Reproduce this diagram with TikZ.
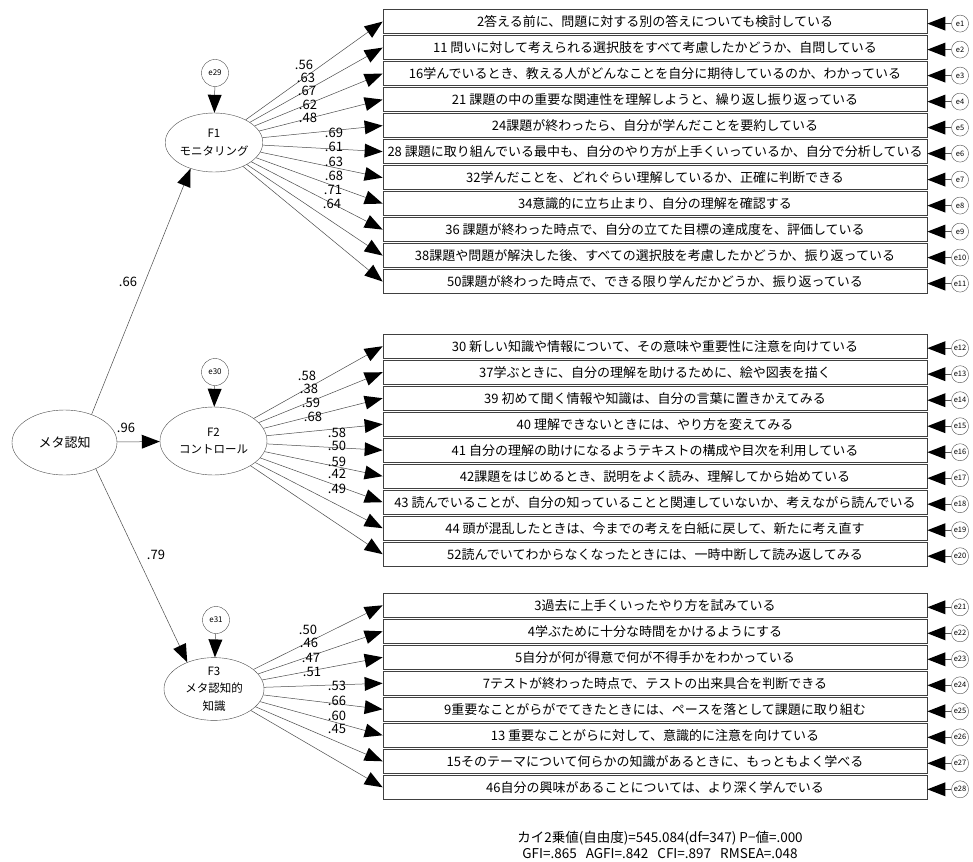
\documentclass[tikz,border=0pt]{standalone}
\usepackage{fontspec}
\setmainfont{Noto Sans CJK JP}
\usetikzlibrary{positioning,shapes.geometric,arrows.meta}

\tikzset{
  item/.style={draw=black!75, line width=0.7pt, minimum width=544pt, minimum height=24pt,
    inner sep=0pt, font=\fontsize{13}{14}\selectfont},
  err/.style={draw=black!70, circle, minimum size=17pt, inner sep=0pt, font=\fontsize{7.5}{8}\selectfont},
  dist/.style={draw=black!70, circle, minimum size=27pt, inner sep=0pt, font=\fontsize{8}{9}\selectfont},
  factor/.style={draw=black!70, ellipse, inner sep=0pt, align=center, font=\fontsize{11.5}{17.5}\selectfont},
  link/.style={draw=black!70, line width=0.5pt, -{Triangle[length=18pt,width=14pt,line width=0pt,color=black,fill=black]}},
  coef/.style={inner sep=0pt, font=\fontsize{13}{14}\selectfont},
}

\begin{document}
\begin{tikzpicture}[x=1pt,y=1pt]
    \path[use as bounding box, fill=white] (0,0) rectangle (973,-861);

    % monitoring items
    \node[item] (m1) at (655,-21.6) {2答える前に、問題に対する別の答えについても検討している};
    \node[item, below=1.3pt of m1] (m2) {11 問いに対して考えられる選択肢をすべて考慮したかどうか、自問している};
    \node[item, below=1.3pt of m2] (m3) {16学んでいるとき、教える人がどんなことを自分に期待しているのか、わかっている};
    \node[item, below=1.3pt of m3] (m4) {21 課題の中の重要な関連性を理解しようと、繰り返し振り返っている};
    \node[item, below=1.3pt of m4] (m5) {24課題が終わったら、自分が学んだことを要約している};
    \node[item, below=1.3pt of m5] (m6) {28 課題に取り組んでいる最中も、自分のやり方が上手くいっているか、自分で分析している};
    \node[item, below=1.3pt of m6] (m7) {32学んだことを、どれぐらい理解しているか、正確に判断できる};
    \node[item, below=1.3pt of m7] (m8) {34意識的に立ち止まり、自分の理解を確認する};
    \node[item, below=1.3pt of m8] (m9) {36 課題が終わった時点で、自分の立てた目標の達成度を、評価している};
    \node[item, below=1.3pt of m9] (m10) {38課題や問題が解決した後、すべての選択肢を考慮したかどうか、振り返っている};
    \node[item, below=1.3pt of m10] (m11) {50課題が終わった時点で、できる限り学んだかどうか、振り返っている};

    % control items
    \node[item] (c1) at (655,-346.2) {30 新しい知識や情報について、その意味や重要性に注意を向けている};
    \node[item, below=1.3pt of c1] (c2) {37学ぶときに、自分の理解を助けるために、絵や図表を描く};
    \node[item, below=1.3pt of c2] (c3) {39 初めて聞く情報や知識は、自分の言葉に置きかえてみる};
    \node[item, below=1.3pt of c3] (c4) {40 理解できないときには、やり方を変えてみる};
    \node[item, below=1.3pt of c4] (c5) {41 自分の理解の助けになるようテキストの構成や目次を利用している};
    \node[item, below=1.3pt of c5] (c6) {42課題をはじめるとき、説明をよく読み、理解してから始めている};
    \node[item, below=1.3pt of c6] (c7) {43 読んでいることが、自分の知っていることと関連していないか、考えながら読んでいる};
    \node[item, below=1.3pt of c7] (c8) {44 頭が混乱したときは、今までの考えを白紙に戻して、新たに考え直す};
    \node[item, below=1.3pt of c8] (c9) {52読んでいてわからなくなったときには、一時中断して読み返してみる};

    % knowledge items
    \node[item] (k1) at (655,-605.3) {3過去に上手くいったやり方を試みている};
    \node[item, below=1.3pt of k1] (k2) {4学ぶために十分な時間をかけるようにする};
    \node[item, below=1.3pt of k2] (k3) {5自分が何が得意で何が不得手かをわかっている};
    \node[item, below=1.3pt of k3] (k4) {7テストが終わった時点で、テストの出来具合を判断できる};
    \node[item, below=1.3pt of k4] (k5) {9重要なことがらがでてきたときには、ペースを落として課題に取り組む};
    \node[item, below=1.3pt of k5] (k6) {13 重要なことがらに対して、意識的に注意を向けている};
    \node[item, below=1.3pt of k6] (k7) {15そのテーマについて何らかの知識があるときに、もっともよく学べる};
    \node[item, below=1.3pt of k7] (k8) {46自分の興味があることについては、より深く学んでいる};

    % error terms
    \foreach \i in {1,...,11}
        \node[err, right=24pt of m\i, yshift=-2pt] (e\i) {e\i};
    \foreach \i [count=\j from 12] in {1,...,9}
        \node[err, right=24pt of c\i, yshift=-2pt] (e\j) {e\j};
    \foreach \i [count=\j from 21] in {1,...,8}
        \node[err, right=24pt of k\i, yshift=-2pt] (e\j) {e\j};

    % factors
    \node[factor, minimum width=105pt, minimum height=65pt, font=\fontsize{13}{15}\selectfont] (MC) at (64.5,-442.5) {メタ認知};
    \node[factor, minimum width=96pt, minimum height=59pt] (F1) at (214,-142.5) {F1\\モニタリング};
    \node[factor, minimum width=107pt, minimum height=68pt] (F2) at (213.5,-441) {F2\\コントロール};
    \node[factor, minimum width=100pt, minimum height=62pt] (F3) at (214,-689) {F3\\メタ認知的\\知識};

    \node[dist] (e29) at (215,-73) {e29};
    \node[dist] (e30) at (215,-372) {e30};
    \node[dist] (e31) at (216,-620) {e31};

    % paths
    \draw[link] (MC.46) -- (F1.228);
    \draw[link] (MC) -- (F2);
    \draw[link] (MC.-40) -- (F3.135);
    \draw[link] (e29) -- (F1);
    \draw[link] (e30) -- (F2);
    \draw[link] (e31) -- (F3);

    \foreach \i in {1,...,11} {
        \draw[link] (F1) -- (m\i.west);
        \draw[link] (e\i) -- (e\i -| m\i.east);
    }
    \foreach \i [count=\j from 12] in {1,...,9} {
        \draw[link] (F2) -- (c\i.west);
        \draw[link] (e\j) -- (e\j -| c\i.east);
    }
    \foreach \i [count=\j from 21] in {1,...,8} {
        \draw[link] (F3) -- (k\i.west);
        \draw[link] (e\j) -- (e\j -| k\i.east);
    }

    % coefficients
    \node[coef] (p1) at (128,-282) {.66};
    \node[coef] (p2) at (126,-428) {.96};
    \node[coef] (p3) at (156,-555) {.79};
    \foreach \x/\y/\val [count=\n] in {304/65/.56, 306/78/.63, 307/91/.67, 308/105/.62, 308/118/.48,
            334/133/.69, 334/147/.61, 334/162/.63, 334/176/.68, 333/190/.71, 332/204/.64}
        \node[coef] (a\n) at (\x,-\y) {\val};
    \foreach \x/\y/\val [count=\n] in {307/376/.58, 309/389/.38, 311/403/.59, 313/417/.68,
            337/433/.58, 337/446/.50, 337/462/.59, 337/474/.42, 337/489/.49}
        \node[coef] (b\n) at (\x,-\y) {\val};
    \foreach \x/\y/\val [count=\n] in {308/630/.50, 309/643/.46, 311/658/.47, 312/672/.51,
            337/686/.53, 337/701/.66, 337/716/.60, 337/729/.45}
        \node[coef] (d\n) at (\x,-\y) {\val};

    \node[align=center, font=\fontsize{13.5}{16}\selectfont] (fitidx) at (660,-845)
        {カイ2乗値(自由度)=545.084(df=347) P−値=.000\\GFI=.865\ \ \ AGFI=.842\ \ \ CFI=.897\ \ \ RMSEA=.048};
\end{tikzpicture}
\end{document}
